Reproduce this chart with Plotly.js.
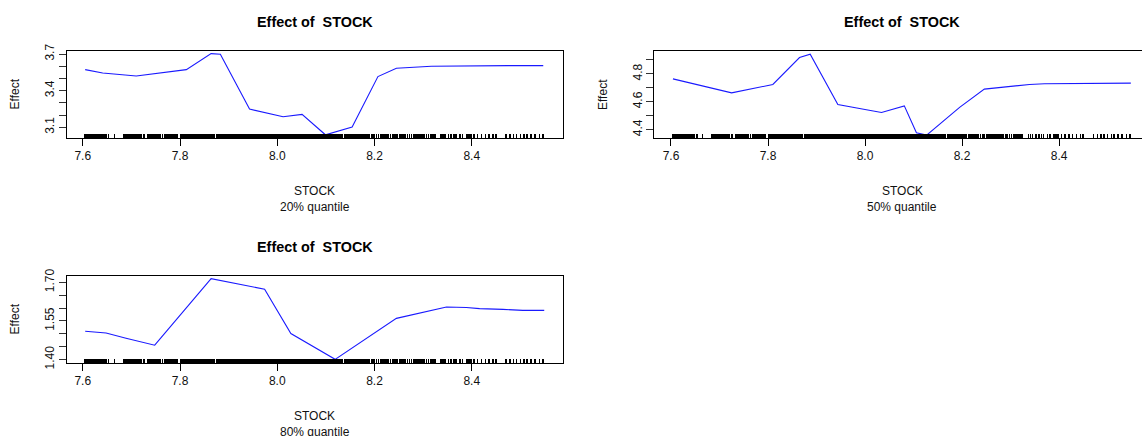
<!DOCTYPE html>
<html>
<head>
<meta charset="utf-8">
<script src="https://cdn.plot.ly/plotly-3.0.1.min.js"></script>
<style>html,body{margin:0;padding:0;background:#fff;}#chart{width:1142px;height:436px;}</style>
</head>
<body>
<div id="chart"></div>
<script>
// ---- data ----
const xQ20 = [7.605, 7.641, 7.710, 7.758, 7.813, 7.864, 7.883, 7.943, 8.012, 8.051, 8.099, 8.154, 8.207, 8.245, 8.276, 8.317, 8.475, 8.547];
const yQ20 = [3.572, 3.545, 3.520, 3.543, 3.572, 3.703, 3.698, 3.249, 3.187, 3.206, 3.039, 3.102, 3.515, 3.584, 3.589, 3.600, 3.605, 3.605];

const xQ50 = [7.604, 7.725, 7.810, 7.865, 7.887, 7.944, 8.000, 8.034, 8.081, 8.106, 8.127, 8.195, 8.246, 8.339, 8.370, 8.514, 8.548];
const yQ50 = [4.764, 4.664, 4.724, 4.917, 4.941, 4.581, 4.545, 4.524, 4.571, 4.379, 4.362, 4.560, 4.691, 4.724, 4.729, 4.731, 4.734];

const xQ80 = [7.605, 7.648, 7.689, 7.748, 7.864, 7.974, 8.028, 8.119, 8.245, 8.293, 8.348, 8.389, 8.416, 8.464, 8.505, 8.549];
const yQ80 = [1.510, 1.503, 1.483, 1.456, 1.714, 1.673, 1.501, 1.401, 1.560, 1.580, 1.604, 1.602, 1.598, 1.595, 1.591, 1.591];

const rugStock = [
 7.604,7.606,7.608,7.611,7.613,7.615,7.618,7.620,7.622,7.625,7.627,7.630,7.632,7.635,7.637,7.640,7.642,7.645,
 7.648,7.653,7.665,
 7.684,7.687,7.690,7.693,7.696,7.699,7.702,7.705,7.708,7.711,7.714,7.717,7.720,
 7.726,
 7.734,7.737,7.740,7.743,7.746,7.750,7.753,7.757,7.760,7.764,7.768,7.771,7.775,7.778,7.782,7.785,
 7.789,7.792,7.795,7.801,7.804,7.807,7.810,7.813,7.816,7.819,7.822,7.825,7.828,7.831,7.834,7.837,7.840,7.843,7.846,7.849,7.852,7.855,7.858,7.861,7.864,7.867,7.870,7.876,7.879,7.882,7.885,7.888,7.891,7.894,7.897,7.900,7.903,7.906,
 7.909,7.912,7.915,7.918,7.921,7.924,7.927,7.930,7.933,7.936,7.939,7.942,7.945,7.948,7.951,7.954,7.957,7.960,7.963,7.966,7.969,7.972,7.975,7.978,7.981,7.984,7.987,7.990,7.993,7.996,7.999,
 8.002,8.005,8.008,8.011,8.014,8.017,8.020,8.023,8.026,8.029,8.032,8.035,8.038,8.041,8.044,8.047,8.050,8.053,8.056,8.059,8.062,8.065,8.068,8.071,8.074,8.077,8.080,8.083,8.086,8.089,8.092,8.095,8.098,8.101,8.104,8.107,8.110,8.113,8.116,8.119,8.122,8.125,8.128,8.131,8.134,
 8.138,8.141,8.144,8.147,8.150,8.153,8.156,8.160,8.163,8.166,8.170,8.173,8.176,8.180,8.183,8.187,8.190,8.194,8.197,8.200,8.204,8.208,
 8.214,8.218,8.222,8.226,8.229,8.233,8.238,8.242,8.246,8.252,8.256,8.260,8.264,8.268,8.272,8.276,8.281,8.285,8.290,8.294,8.298,8.302,8.307,8.311,8.316,8.320,8.324,
 8.337,8.341,8.345,8.352,8.358,8.364,8.368,
 8.376,8.381,8.390,8.394,8.398,8.405,8.412,8.420,8.428,8.436,8.444,8.450,
 8.471,8.479,8.486,8.492,8.500,8.508,8.513,8.522,8.530,8.539,8.546
];

const xTickVals = [7.6, 7.8, 8.0, 8.2, 8.4];
const xTickText = ['7.6', '7.8', '8.0', '8.2', '8.4'];
const yTicks20 = [3.1, 3.2, 3.3, 3.4, 3.5, 3.6, 3.7];
const yText20 = ['3.1', '', '', '3.4', '', '', '3.7'];
const yTicks50 = [4.4, 4.5, 4.6, 4.7, 4.8, 4.9];
const yText50 = ['4.4', '', '4.6', '', '4.8', ''];
const yTicks80 = [1.40, 1.45, 1.50, 1.55, 1.60, 1.65, 1.70];
const yText80 = ['1.40', '', '', '1.55', '', '', '1.70'];

const panelTitle = 'Effect of \u00a0STOCK';
const xName = 'STOCK';
const quantLabels = ['20% quantile', '50% quantile', '80% quantile'];
const yName = 'Effect';

// ---- layout ----
const W = 1142, H = 436;
const FONT = 'Liberation Sans, Arial, Helvetica, sans-serif';
const px = v => v / W;
const py = v => 1 - v / H;

const lineStyle = {color: '#1a1aff', width: 1.1};

const traces = [
  {x: xQ20, y: yQ20, xaxis: 'x', yaxis: 'y', mode: 'lines', line: lineStyle, hoverinfo: 'skip'},
  {x: xQ50, y: yQ50, xaxis: 'x2', yaxis: 'y2', mode: 'lines', line: lineStyle, hoverinfo: 'skip'},
  {x: xQ80, y: yQ80, xaxis: 'x3', yaxis: 'y3', mode: 'lines', line: lineStyle, hoverinfo: 'skip'},
  {x: rugStock, y: rugStock.map(() => null), xaxis: 'x4', yaxis: 'y', mode: 'markers', hoverinfo: 'skip'},
  {x: rugStock, y: rugStock.map(() => null), xaxis: 'x5', yaxis: 'y2', mode: 'markers', hoverinfo: 'skip'},
  {x: rugStock, y: rugStock.map(() => null), xaxis: 'x6', yaxis: 'y3', mode: 'markers', hoverinfo: 'skip'}
];

function xAxis(domain, range, anchor) {
  return {
    domain: domain, range: range, anchor: anchor, autorange: false,
    tickmode: 'array', tickvals: xTickVals, ticktext: xTickText,
    ticks: 'outside', ticklen: 7, tickwidth: 1, tickcolor: '#000',
    showline: true, mirror: true, linecolor: '#000', linewidth: 1,
    showgrid: false, zeroline: false,
    tickfont: {family: FONT, size: 12, color: '#111'}
  };
}
function yAxis(domain, range, anchor, tv, tt, mirror) {
  return {
    domain: domain, range: range, anchor: anchor, autorange: false,
    tickmode: 'array', tickvals: tv, ticktext: tt, tickangle: -90,
    ticks: 'outside', ticklen: 7, tickwidth: 1, tickcolor: '#333',
    showline: true, mirror: mirror, linecolor: '#000', linewidth: 1,
    showgrid: false, zeroline: false,
    tickfont: {family: FONT, size: 12, color: '#111'}
  };
}
function rugAxis(over, range, anchor) {
  return {
    overlaying: over, anchor: anchor, side: 'bottom', range: range, autorange: false,
    tickmode: 'array', tickvals: rugStock, ticks: 'inside', ticklen: 4, tickwidth: 1.7,
    tickcolor: '#000', showticklabels: false, showline: false, showgrid: false, zeroline: false
  };
}

const r1 = [7.567, 8.587];
const r2 = [7.5656, 8.571];
const dxL = [px(66.7), px(562.7)];
const dxR = [px(654.3), 1];
const dyT = [py(137.7), py(50.7)];
const dyB = [py(362.7), py(275.7)];

const layout = {
  width: W, height: H, autosize: false,
  margin: {l: 0, r: 0, t: 0, b: 0},
  paper_bgcolor: '#fff', plot_bgcolor: '#fff',
  showlegend: false,
  font: {family: FONT, size: 12, color: '#111'},
  xaxis: xAxis(dxL, r1, 'y'),
  yaxis: yAxis(dyT, [3.015, 3.727], 'x', yTicks20, yText20, true),
  xaxis2: xAxis(dxR, r2, 'y2'),
  yaxis2: yAxis(dyT, [4.343, 4.966], 'x2', yTicks50, yText50, false),
  xaxis3: xAxis(dxL, r1, 'y3'),
  yaxis3: yAxis(dyB, [1.388, 1.7256], 'x3', yTicks80, yText80, true),
  xaxis4: rugAxis('x', r1, 'y'),
  xaxis5: rugAxis('x2', r2, 'y2'),
  xaxis6: rugAxis('x3', r1, 'y3'),
  annotations: []
};

const panels = [
  {cx: (66.7 + 562.7) / 2, top: 50.7, bot: 137.7, left: 66.7, q: quantLabels[0]},
  {cx: (654.3 + 1150) / 2, top: 50.7, bot: 137.7, left: 654.3, q: quantLabels[1]},
  {cx: (66.7 + 562.7) / 2, top: 275.7, bot: 362.7, left: 66.7, q: quantLabels[2]}
];
panels.forEach(p => {
  layout.annotations.push(
    {text: '<b>' + panelTitle + '</b>', xref: 'paper', yref: 'paper', x: px(p.cx), y: py(p.top - 29), xanchor: 'center', yanchor: 'middle', showarrow: false, font: {family: FONT, size: 14.4, color: '#000'}},
    {text: xName, xref: 'paper', yref: 'paper', x: px(p.cx), y: py(p.bot + 53), xanchor: 'center', yanchor: 'middle', showarrow: false, font: {family: FONT, size: 12, color: '#111'}},
    {text: p.q, xref: 'paper', yref: 'paper', x: px(p.cx), y: py(p.bot + 69), xanchor: 'center', yanchor: 'middle', showarrow: false, font: {family: FONT, size: 12, color: '#111'}},
    {text: yName, xref: 'paper', yref: 'paper', x: px(p.left - 51.5), y: py((p.top + p.bot) / 2), xanchor: 'center', yanchor: 'middle', textangle: -90, showarrow: false, font: {family: FONT, size: 12, color: '#111'}}
  );
});

Plotly.newPlot('chart', traces, layout, {displayModeBar: false, staticPlot: true});
</script>
</body>
</html>
